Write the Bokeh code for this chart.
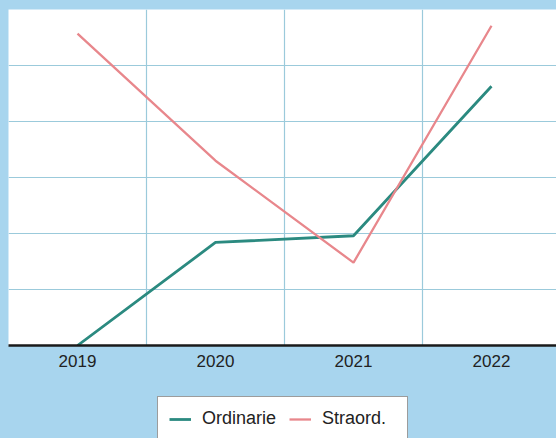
from bokeh.plotting import figure
from bokeh.layouts import column
from bokeh.models import Legend, LegendItem, FixedTicker
from bokeh.embed import file_html
from bokeh.resources import INLINE

# Yearly figures, two series
years = [2019, 2020, 2021, 2022]
ordinarie = [0.0, 1.84, 1.96, 4.63]
straord = [5.57, 3.30, 1.48, 5.71]
year_labels = {2019: "2019", 2020: "2020", 2021: "2021", 2022: "2022"}
series_names = ["Ordinarie", "Straord."]
series_colors = ["#2b8a80", "#e8878c"]
series_values = [ordinarie, straord]

FONT = "Liberation Sans"
BG = "#a8d5ee"
GRID = "#9bcadb"

# --- main chart ---
p = figure(
    frame_width=548, frame_height=336,
    x_range=(2018.5, 2018.5 + 548 / 138),
    y_range=(0, 6),
    output_backend="svg", toolbar_location=None,
    min_border_left=8, min_border_right=0,
    min_border_top=9, min_border_bottom=0,
)
p.border_fill_color = BG
p.background_fill_color = "white"
p.outline_line_color = None

p.yaxis.visible = False
p.ygrid.ticker = FixedTicker(ticks=[1, 2, 3, 4, 5])
p.ygrid.grid_line_color = GRID
p.ygrid.grid_line_width = 1.2

p.xgrid.ticker = FixedTicker(ticks=[2019.5, 2020.5, 2021.5])
p.xgrid.grid_line_color = GRID
p.xgrid.grid_line_width = 1.2

ax = p.xaxis[0]
ax.ticker = FixedTicker(ticks=years)
ax.major_label_overrides = year_labels
ax.axis_line_color = "#1a1a1a"
ax.axis_line_width = 2.5
ax.major_tick_line_color = None
ax.major_tick_out = 0
ax.major_tick_in = 0
ax.minor_tick_line_color = None
ax.minor_tick_out = 0
ax.major_label_text_font = FONT
ax.major_label_text_font_size = "17px"
ax.major_label_text_color = "#222222"
ax.major_label_standoff = 9

widths = [2.8, 2.3]
for vals, c, w in zip(series_values, series_colors, widths):
    p.line(years, vals, line_color=c, line_width=w)

# --- legend strip underneath (frame aligned with the chart's frame) ---
LEG_H = 69
leg = figure(
    width=556, height=LEG_H, x_range=(0, 1), y_range=(0, 1),
    output_backend="svg", toolbar_location=None,
    min_border_left=8, min_border_right=0,
    min_border_top=0, min_border_bottom=0,
)
leg.axis.visible = False
leg.grid.visible = False
leg.outline_line_color = None
leg.background_fill_color = BG
leg.border_fill_color = BG

# key renderers carry the same series; they sit outside this strip's ranges
keys = [leg.line(years, vals, line_color=c, line_width=w)
        for vals, c, w in zip(series_values, series_colors, widths)]

legend = Legend(
    items=[LegendItem(label=n, renderers=[r]) for n, r in zip(series_names, keys)],
    orientation="horizontal",
    location=(149, -3),
    label_text_font=FONT,
    label_text_font_size="18px",
    label_text_color="#222222",
    label_width=74,
    glyph_width=22,
    glyph_height=20,
    label_standoff=11,
    spacing=13,
    padding=11,
    margin=0,
    border_line_color="#3a3a3a",
    border_line_width=1.5,
    background_fill_color="white",
    background_fill_alpha=1.0,
)
leg.add_layout(legend, "center")

page = column(p, leg, spacing=0, styles={"background-color": BG})
open("out.html", "w").write(file_html(page, INLINE))
